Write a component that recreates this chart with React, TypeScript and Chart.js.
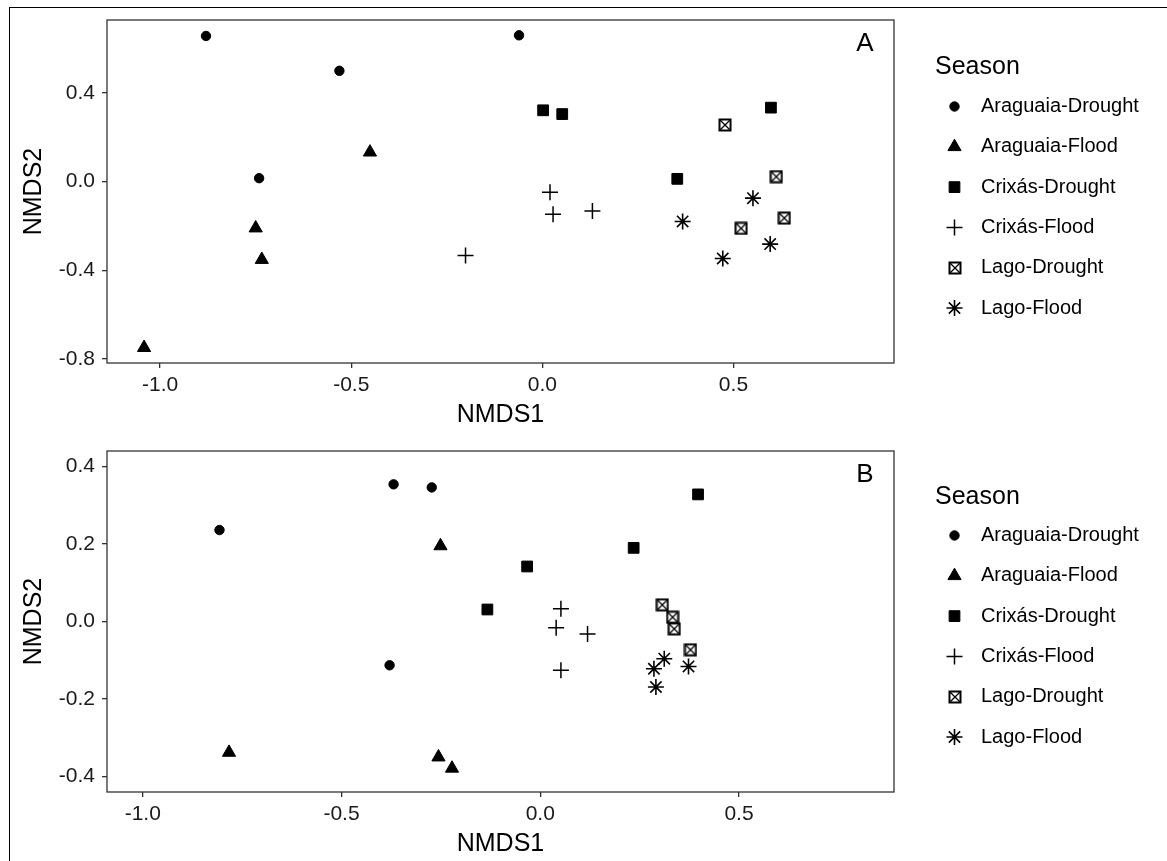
import React, { useEffect, useRef } from 'react';
import { Chart, registerables } from 'chart.js';

Chart.register(...registerables);

const FONT = "'Liberation Sans', Arial, Helvetica, sans-serif";

// ---------- categories ----------
const seasons = ['Araguaia-Drought', 'Araguaia-Flood', 'Crixás-Drought', 'Crixás-Flood', 'Lago-Drought', 'Lago-Flood'];

// ---------- Panel A (NMDS1, NMDS2) ----------
const aAraguaiaDrought = [[-0.880, 0.656], [-0.061, 0.659], [-0.531, 0.499], [-0.741, 0.015]];
const aAraguaiaFlood = [[-0.451, 0.132], [-0.750, -0.210], [-0.734, -0.352], [-1.042, -0.749]];
const aCrixasDrought = [[0.002, 0.321], [0.052, 0.304], [0.598, 0.333], [0.353, 0.012]];
const aCrixasFlood = [[0.020, -0.048], [0.028, -0.147], [0.131, -0.133], [-0.201, -0.334]];
const aLagoDrought = [[0.478, 0.255], [0.612, 0.022], [0.520, -0.211], [0.633, -0.165]];
const aLagoFlood = [[0.551, -0.075], [0.367, -0.180], [0.596, -0.282], [0.472, -0.347]];

// ---------- Panel B (NMDS1, NMDS2) ----------
const bAraguaiaDrought = [[-0.807, 0.236], [-0.369, 0.354], [-0.273, 0.346], [-0.379, -0.113]];
const bAraguaiaFlood = [[-0.251, 0.195], [-0.783, -0.338], [-0.256, -0.350], [-0.222, -0.379]];
const bCrixasDrought = [[-0.033, 0.142], [-0.133, 0.031], [0.397, 0.328], [0.235, 0.190]];
const bCrixasFlood = [[0.052, 0.033], [0.040, -0.016], [0.119, -0.032], [0.052, -0.126]];
const bLagoDrought = [[0.307, 0.043], [0.333, 0.011], [0.337, -0.019], [0.378, -0.073]];
const bLagoFlood = [[0.312, -0.096], [0.286, -0.122], [0.373, -0.116], [0.291, -0.169]];

// ---------- axes ----------
const aXTicks = [-1.0, -0.5, 0.0, 0.5];
const aYTicks = [-0.8, -0.4, 0.0, 0.4];
const bXTicks = [-1.0, -0.5, 0.0, 0.5];
const bYTicks = [-0.4, -0.2, 0.0, 0.2, 0.4];
const aXLimits = [-1.139, 0.92];
const aYLimits = [-0.818, 0.728];
const bXLimits = [-1.09, 0.89];
const bYLimits = [-0.44, 0.44];

const xTitle = 'NMDS1';
const yTitle = 'NMDS2';
const legendTitle = 'Season';

function makeBoxX(): HTMLCanvasElement {
  const c = document.createElement('canvas');
  c.width = 14;
  c.height = 14;
  const g = c.getContext('2d') as CanvasRenderingContext2D;
  g.strokeStyle = '#000';
  g.lineWidth = 2;
  g.strokeRect(1.5, 1.5, 11, 11);
  g.lineWidth = 1.3;
  g.beginPath();
  g.moveTo(2, 2);
  g.lineTo(12, 12);
  g.moveTo(12, 2);
  g.lineTo(2, 12);
  g.stroke();
  return c;
}

type Marker = { style: any; radius: number; bw: number };

function makeMarkers(): Marker[] {
  return [
    { style: 'circle', radius: 4.7, bw: 1 },
    { style: 'triangle', radius: 7.6, bw: 1 },
    { style: 'rect', radius: 7.6, bw: 1 },
    { style: 'cross', radius: 8, bw: 1.5 },
    { style: makeBoxX(), radius: 7, bw: 1 },
    { style: 'star', radius: 8, bw: 1.6 },
  ];
}

function drawMarker(ctx: CanvasRenderingContext2D, m: Marker, x: number, y: number) {
  ctx.save();
  ctx.fillStyle = '#000';
  ctx.strokeStyle = '#000';
  ctx.lineWidth = m.bw;
  const r = m.radius;
  if (typeof m.style !== 'string') {
    ctx.drawImage(m.style, Math.round(x - m.style.width / 2), Math.round(y - m.style.height / 2));
    ctx.restore();
    return;
  }
  ctx.beginPath();
  if (m.style === 'circle') {
    ctx.arc(x, y, r, 0, Math.PI * 2);
    ctx.closePath();
    ctx.fill();
    ctx.stroke();
  } else if (m.style === 'triangle') {
    ctx.moveTo(x, y - r);
    ctx.lineTo(x + 0.866 * r, y + 0.5 * r);
    ctx.lineTo(x - 0.866 * r, y + 0.5 * r);
    ctx.closePath();
    ctx.fill();
    ctx.stroke();
  } else if (m.style === 'rect') {
    const s = r * Math.SQRT1_2;
    ctx.rect(x - s, y - s, 2 * s, 2 * s);
    ctx.fill();
    ctx.stroke();
  } else if (m.style === 'cross') {
    ctx.moveTo(x - r, y);
    ctx.lineTo(x + r, y);
    ctx.moveTo(x, y - r);
    ctx.lineTo(x, y + r);
    ctx.stroke();
  } else if (m.style === 'star') {
    const d = r * Math.SQRT1_2;
    ctx.moveTo(x - r, y);
    ctx.lineTo(x + r, y);
    ctx.moveTo(x, y - r);
    ctx.lineTo(x, y + r);
    ctx.moveTo(x - d, y - d);
    ctx.lineTo(x + d, y + d);
    ctx.moveTo(x + d, y - d);
    ctx.lineTo(x - d, y + d);
    ctx.stroke();
  }
  ctx.restore();
}

type PanelSpec = {
  label: string;
  series: number[][][];
  xLim: number[];
  yLim: number[];
  xTicks: number[];
  yTicks: number[];
  canvasH: number;
  areaTop: number;
  areaBottom: number;
  xTitlePadBottom: number;
  titleY: number;
  legendY0: number;
};

function buildConfig(p: PanelSpec): any {
  const markers = makeMarkers();
  const areaLeft = 107;
  const areaRight = 894;
  const fmt = (v: any) => Number(v).toFixed(1);

  const framePlugin = {
    id: 'frameAndLegend',
    afterDraw(chart: any) {
      const ctx: CanvasRenderingContext2D = chart.ctx;
      const a = chart.chartArea;
      ctx.save();
      ctx.strokeStyle = '#333';
      ctx.lineWidth = 1.3;
      ctx.strokeRect(a.left, a.top, a.right - a.left, a.bottom - a.top);
      ctx.fillStyle = '#000';
      ctx.font = `26px ${FONT}`;
      ctx.textAlign = 'right';
      ctx.textBaseline = 'middle';
      ctx.fillText(p.label, a.right - 20.5, a.top + 24);
      ctx.textAlign = 'left';
      ctx.font = `25px ${FONT}`;
      ctx.fillText(legendTitle, 935, p.titleY);
      ctx.font = `20px ${FONT}`;
      seasons.forEach((name, i) => {
        const y = p.legendY0 + i * 40.3;
        drawMarker(ctx, markers[i], 954.5, y);
        ctx.fillStyle = '#000';
        ctx.fillText(name, 981, y);
      });
      ctx.restore();
    },
  };

  return {
    type: 'scatter',
    data: {
      datasets: p.series.map((pts, i) => ({
        label: seasons[i],
        data: pts.map(([x, y]) => ({ x, y })),
        pointStyle: markers[i].style,
        pointRadius: markers[i].radius,
        pointBorderWidth: markers[i].bw,
        backgroundColor: '#000',
        borderColor: '#000',
        showLine: false,
      })),
    },
    options: {
      responsive: false,
      maintainAspectRatio: false,
      devicePixelRatio: 1,
      animation: false,
      events: [],
      layout: { padding: { left: 0, top: p.areaTop, right: 1167 - areaRight, bottom: 0 } },
      plugins: { legend: { display: false }, tooltip: { enabled: false } },
      scales: {
        x: {
          type: 'linear',
          min: p.xLim[0],
          max: p.xLim[1],
          afterBuildTicks: (s: any) => {
            s.ticks = p.xTicks.map((v) => ({ value: v }));
          },
          afterFit: (s: any) => {
            s.height = p.canvasH - p.areaBottom;
          },
          ticks: {
            callback: fmt,
            font: { size: 21, family: FONT },
            color: '#1a1a1a',
            padding: 5,
            maxRotation: 0,
            autoSkip: false,
          },
          grid: { display: true, drawOnChartArea: false, drawTicks: true, tickLength: 5, color: '#333', lineWidth: 1.3 },
          border: { display: false },
          title: {
            display: true,
            text: xTitle,
            font: { size: 25, family: FONT },
            color: '#000',
            padding: { top: 0, bottom: p.xTitlePadBottom },
          },
        },
        y: {
          type: 'linear',
          min: p.yLim[0],
          max: p.yLim[1],
          afterBuildTicks: (s: any) => {
            s.ticks = p.yTicks.map((v) => ({ value: v }));
          },
          afterFit: (s: any) => {
            s.width = areaLeft;
          },
          ticks: {
            callback: fmt,
            font: { size: 21, family: FONT },
            color: '#1a1a1a',
            padding: 7,
            autoSkip: false,
          },
          grid: { display: true, drawOnChartArea: false, drawTicks: true, tickLength: 5, color: '#333', lineWidth: 1.3 },
          border: { display: false },
          title: {
            display: true,
            text: yTitle,
            font: { size: 25, family: FONT },
            color: '#000',
            padding: { top: 19.5, bottom: 0 },
          },
        },
      },
    },
    plugins: [framePlugin],
  };
}

const panelA: PanelSpec = {
  label: 'A',
  series: [aAraguaiaDrought, aAraguaiaFlood, aCrixasDrought, aCrixasFlood, aLagoDrought, aLagoFlood],
  xLim: aXLimits,
  yLim: aYLimits,
  xTicks: aXTicks,
  yTicks: aYTicks,
  canvasH: 430,
  areaTop: 20,
  areaBottom: 363,
  xTitlePadBottom: 0,
  titleY: 67,
  legendY0: 106.5,
};

const panelB: PanelSpec = {
  label: 'B',
  series: [bAraguaiaDrought, bAraguaiaFlood, bCrixasDrought, bCrixasFlood, bLagoDrought, bLagoFlood],
  xLim: bXLimits,
  yLim: bYLimits,
  xTicks: bXTicks,
  yTicks: bYTicks,
  canvasH: 431,
  areaTop: 21,
  areaBottom: 362,
  xTitlePadBottom: 2,
  titleY: 66.7,
  legendY0: 105.5,
};

function Panel({ spec, top }: { spec: PanelSpec; top: number }) {
  const ref = useRef<HTMLCanvasElement>(null);
  useEffect(() => {
    if (!ref.current) return;
    const chart = new Chart(ref.current, buildConfig(spec));
    return () => chart.destroy();
  }, [spec]);
  return (
    <canvas
      ref={ref}
      width={1167}
      height={spec.canvasH}
      style={{ position: 'absolute', left: 0, top, width: 1167, height: spec.canvasH }}
    />
  );
}

export default function App() {
  return (
    <div
      style={{
        position: 'fixed',
        left: 0,
        top: 0,
        width: 1167,
        height: 861,
        background: '#fff',
        overflow: 'hidden',
      }}
    >
      <div
        style={{
          position: 'absolute',
          left: 9,
          top: 7,
          right: 0,
          bottom: 0,
          borderTop: '1px solid #000',
          borderLeft: '1px solid #000',
        }}
      />
      <Panel spec={panelA} top={0} />
      <Panel spec={panelB} top={430} />
    </div>
  );
}
